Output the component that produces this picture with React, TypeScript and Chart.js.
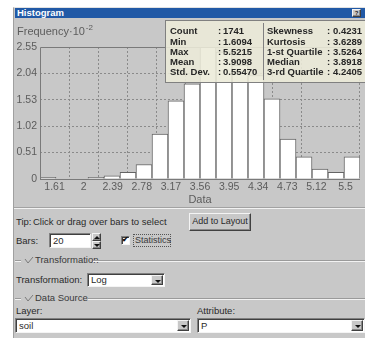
import React, { useEffect, useRef } from 'react';
import { Chart, registerables } from 'chart.js';

Chart.register(...registerables);

// ---- data ----
const binStarts = ['1.61', '1.81', '2.00', '2.20', '2.39', '2.59', '2.78', '2.98', '3.17', '3.37', '3.57', '3.76', '3.96', '4.15', '4.35', '4.54', '4.74', '4.94', '5.13', '5.33'];
const frequencies = [0.03, 0, 0, 0.03, 0.06, 0.13, 0.28, 0.87, 1.51, 1.84, 2.55, 2.45, 2.2, 2.0, 1.55, 0.77, 0.43, 0.19, 0.13, 0.43];
const xTickValues = [1.6094, 2.0006, 2.3918, 2.783, 3.1742, 3.5655, 3.9567, 4.3479, 4.7391, 5.1303, 5.5215];
const xTickLabels = ['1.61', '2', '2.39', '2.78', '3.17', '3.56', '3.95', '4.34', '4.73', '5.12', '5.5'];
const yTickValues = [0, 0.51, 1.02, 1.53, 2.04, 2.55];
const yTickLabels = ['0', '0.51', '1.02', '1.53', '2.04', '2.55'];
const statNamesLeft = ['Count', 'Min', 'Max', 'Mean', 'Std. Dev.'];
const statValuesLeft = ['1741', '1.6094', '5.5215', '3.9098', '0.55470'];
const statNamesRight = ['Skewness', 'Kurtosis', '1-st Quartile', 'Median', '3-rd Quartile'];
const statValuesRight = ['0.4231', '3.6289', '3.5264', '3.8918', '4.2405'];

const FONT = '"Liberation Sans", Arial, sans-serif';
const PANEL = '#c8c8c8';
const TEXT = '#2a2a2a';
const TICK = '#5c5c5c';

const overlayPlugin = {
  id: 'overlay',
  afterDatasetsDraw(chart: any) {
    const { ctx, chartArea } = chart;
    const { left, top, right, bottom } = chartArea;
    ctx.save();
    ctx.strokeStyle = '#7a7a7a';
    ctx.lineWidth = 1;
    ctx.beginPath();
    ctx.moveTo(Math.round(left) + 0.5, Math.round(bottom) + 0.5);
    ctx.lineTo(Math.round(left) + 0.5, Math.round(top) + 0.5);
    ctx.lineTo(Math.round(right), Math.round(top) + 0.5);
    ctx.moveTo(Math.round(left), Math.round(bottom) + 0.5);
    ctx.lineTo(Math.round(right), Math.round(bottom) + 0.5);
    ctx.stroke();
    ctx.restore();
  },
  afterDraw(chart: any) {
    const { ctx } = chart;
    ctx.save();
    // y title with superscript
    ctx.fillStyle = TICK;
    ctx.textBaseline = 'middle';
    ctx.textAlign = 'left';
    ctx.font = '11px ' + FONT;
    const main = 'Frequency\u00b710';
    ctx.fillText(main, 4, 14);
    const w = ctx.measureText(main).width;
    ctx.font = '8px ' + FONT;
    ctx.fillText('-2', 4 + w + 1, 10);

    // statistics box
    const bx = 152, by = 2, bw = 215, bh = 62;
    ctx.fillStyle = 'rgba(236,234,216,0.88)';
    ctx.fillRect(bx, by, bw, bh);
    ctx.strokeStyle = '#808080';
    ctx.lineWidth = 1;
    ctx.strokeRect(bx + 0.5, by + 0.5, bw, bh);
    ctx.beginPath();
    ctx.moveTo(250.5, by + 3);
    ctx.lineTo(250.5, by + bh - 2);
    ctx.stroke();
    ctx.fillStyle = '#262626';
    ctx.font = 'bold 9.5px ' + FONT;
    ctx.textBaseline = 'middle';
    for (let i = 0; i < statNamesLeft.length; i++) {
      const y = 13.7 + i * 10.25;
      ctx.fillText(statNamesLeft[i], 157, y);
      ctx.fillText(':', 205, y);
      ctx.fillText(statValuesLeft[i], 210, y);
      ctx.fillText(statNamesRight[i], 254, y);
      ctx.fillText(':', 314, y);
      ctx.fillText(statValuesRight[i], 320, y);
    }
    ctx.restore();
  },
};

function sunken(extra: any = {}) {
  return {
    position: 'absolute' as const,
    background: '#fff',
    borderTop: '1px solid #808080',
    borderLeft: '1px solid #808080',
    borderRight: '1px solid #f4f4f4',
    borderBottom: '1px solid #f4f4f4',
    boxShadow: 'inset 1px 1px 0 #404040',
    boxSizing: 'border-box' as const,
    ...extra,
  };
}

function raised(extra: any = {}) {
  return {
    position: 'absolute' as const,
    background: PANEL,
    borderTop: '1px solid #f4f4f4',
    borderLeft: '1px solid #f4f4f4',
    borderRight: '1px solid #404040',
    borderBottom: '1px solid #404040',
    boxShadow: 'inset -1px -1px 0 #888',
    boxSizing: 'border-box' as const,
    ...extra,
  };
}

function Tri({ x, y, up }: { x: number; y: number; up?: boolean }) {
  return (
    <div
      style={{
        position: 'absolute',
        left: x,
        top: y,
        width: 0,
        height: 0,
        borderLeft: '3px solid transparent',
        borderRight: '3px solid transparent',
        ...(up ? { borderBottom: '3px solid #111' } : { borderTop: '3px solid #111' }),
      }}
    />
  );
}

function Txt({ x, y, children, style }: any) {
  return (
    <div style={{ position: 'absolute', left: x, top: y - 6, height: 12, lineHeight: '12px', whiteSpace: 'nowrap', ...style }}>
      {children}
    </div>
  );
}

function Combo({ x, y, w, h, text }: any) {
  return (
    <div style={sunken({ left: x, top: y, width: w, height: h })}>
      <div style={{ position: 'absolute', left: 3, top: 0, lineHeight: h - 2 + 'px' }}>{text}</div>
      <div style={raised({ right: 1, top: 1, width: 12, height: h - 4 })}>
        <Tri x={2.5} y={4} />
      </div>
    </div>
  );
}

function GroupLine({ y, label, lineFrom }: any) {
  return (
    <>
      <div style={{ position: 'absolute', left: 15, top: y, width: 6, height: 1, background: '#9a9a9a', borderBottom: '1px solid #f2f2f2' }} />
      <svg style={{ position: 'absolute', left: 24, top: y - 4 }} width={10} height={8}>
        <polyline points="1,3 4,7 9,1" fill="none" stroke="#7a7a7a" strokeWidth={1} />
      </svg>
      <Txt x={35} y={y} style={{ color: '#3a3a3a' }}>{label}</Txt>
      <div style={{ position: 'absolute', left: lineFrom, top: y, width: 365 - lineFrom, height: 1, background: '#9a9a9a', borderBottom: '1px solid #f2f2f2' }} />
    </>
  );
}

export default function App() {
  const ref = useRef<HTMLCanvasElement>(null);

  useEffect(() => {
    if (!ref.current) return;
    const lastX = xTickValues.length - 1;
    const lastY = yTickValues.length - 1;
    const chart = new Chart(ref.current, {
      type: 'bar',
      data: {
        labels: binStarts,
        datasets: [
          {
            data: frequencies,
            backgroundColor: '#ffffff',
            borderColor: '#646464',
            borderWidth: 1,
            barPercentage: 1,
            categoryPercentage: 1,
            xAxisID: 'x',
            yAxisID: 'y',
          },
        ],
      },
      options: {
        animation: false,
        responsive: false,
        devicePixelRatio: 1,
        layout: { padding: { left: 0, right: 5, top: 29, bottom: 0 } },
        plugins: { legend: { display: false }, tooltip: { enabled: false } },
        scales: {
          x: { type: 'category', display: false, offset: true, grid: { display: false } },
          xl: {
            type: 'linear',
            position: 'bottom',
            min: xTickValues[0],
            max: xTickValues[lastX],
            afterBuildTicks: (s: any) => {
              s.ticks = xTickValues.map((v) => ({ value: v }));
            },
            afterFit: (s: any) => {
              s.height = 28;
            },
            ticks: {
              autoSkip: false,
              maxRotation: 0,
              padding: 2,
              color: TICK,
              font: { family: FONT, size: 10.5 },
              callback: (_v: any, i: number) => xTickLabels[i],
            },
            grid: {
              drawTicks: false,
              color: (c: any) => (c.index === 0 || c.index === lastX ? 'transparent' : '#8a8a8a'),
              lineWidth: 1,
            },
            border: { display: false, dash: [2, 2] },
            title: { display: true, text: 'Data', color: TICK, font: { family: FONT, size: 11 }, padding: { top: 0, bottom: 0 } },
          },
          y: {
            min: 0,
            max: yTickValues[lastY],
            afterBuildTicks: (s: any) => {
              s.ticks = yTickValues.map((v) => ({ value: v }));
            },
            afterFit: (s: any) => {
              s.width = 27;
            },
            ticks: {
              padding: 3,
              color: TICK,
              font: { family: FONT, size: 10.5 },
              callback: (_v: any, i: number) => yTickLabels[i],
            },
            grid: {
              drawTicks: false,
              color: (c: any) => (c.index === 0 || c.index === lastY ? 'transparent' : '#8a8a8a'),
              lineWidth: 1,
            },
            border: { display: false, dash: [2, 2] },
          },
        },
      } as any,
      plugins: [overlayPlugin],
    });
    return () => chart.destroy();
  }, []);

  return (
    <div style={{ position: 'fixed', left: 0, top: 0, width: 365, height: 338, overflow: 'hidden', background: '#fff', fontFamily: FONT, fontSize: 9.5, color: TEXT }}>
      {/* dialog frame */}
      <div style={{ position: 'absolute', left: 13, top: 7, width: 360, height: 340, background: PANEL, borderLeft: '1px solid #a0a0a0', borderTop: '1px solid #e2e2e2' }} />
      {/* title bar */}
      <div style={{ position: 'absolute', left: 15, top: 8, width: 352, height: 10, background: '#2159a6' }} />
      <div style={{ position: 'absolute', left: 17, top: 8, height: 10, lineHeight: '10px', color: '#fff', fontWeight: 'bold', fontSize: 9.5 }}>Histogram</div>
      <div style={raised({ left: 352, top: 9, width: 9, height: 8, fontSize: 6, lineHeight: '6px', textAlign: 'center', color: '#222', fontWeight: 'bold' })}>?</div>

      {/* chart */}
      <canvas ref={ref} width={352} height={189} style={{ position: 'absolute', left: 13, top: 18, width: 352, height: 189, display: 'block' }} />

      {/* separator */}
      <div style={{ position: 'absolute', left: 14, top: 207, width: 351, height: 1, background: '#a2a2a2', borderBottom: '1px solid #f2f2f2' }} />

      {/* Tip row */}
      <Txt x={16} y={222}>Tip:</Txt>
      <Txt x={33} y={222}>Click or drag over bars to select</Txt>
      <div style={raised({ left: 189, top: 213, width: 62, height: 18, textAlign: 'center', lineHeight: '15px', fontSize: 9 })}>Add to Layout</div>

      {/* Bars row */}
      <Txt x={16} y={241}>Bars:</Txt>
      <div style={sunken({ left: 49, top: 233, width: 42, height: 15 })}>
        <div style={{ position: 'absolute', left: 3, top: 0, lineHeight: '13px' }}>20</div>
      </div>
      <div style={raised({ left: 92, top: 233, width: 9, height: 8 })}>
        <Tri x={0.5} y={1.5} up />
      </div>
      <div style={raised({ left: 92, top: 241, width: 9, height: 8 })}>
        <Tri x={0.5} y={2} />
      </div>
      <div style={sunken({ left: 121, top: 236, width: 9, height: 9 })}>
        <div style={{ position: 'absolute', left: 0, top: -2, fontSize: 8, lineHeight: '10px', color: '#111', fontWeight: 'bold' }}>{'\u2714'}</div>
      </div>
      <div style={{ position: 'absolute', left: 133, top: 234, width: 38, height: 13, border: '1px dotted #555', boxSizing: 'border-box', lineHeight: '11px', paddingLeft: 1, fontSize: 9, color: '#3a3a3a' }}>Statistics</div>

      {/* Transformation group */}
      <GroupLine y={260} label="Transformation" lineFrom={93} />
      <Txt x={16} y={280}>Transformation:</Txt>
      <Combo x={87} y={273} w={78} h={14} text="Log" />

      {/* Data source group */}
      <GroupLine y={298} label="Data Source" lineFrom={88} />
      <Txt x={16} y={311}>Layer:</Txt>
      <Txt x={197} y={311}>Attribute:</Txt>
      <Combo x={15} y={318} w={176} h={15} text="soil" />
      <Combo x={197} y={318} w={168} h={15} text="P" />
    </div>
  );
}
